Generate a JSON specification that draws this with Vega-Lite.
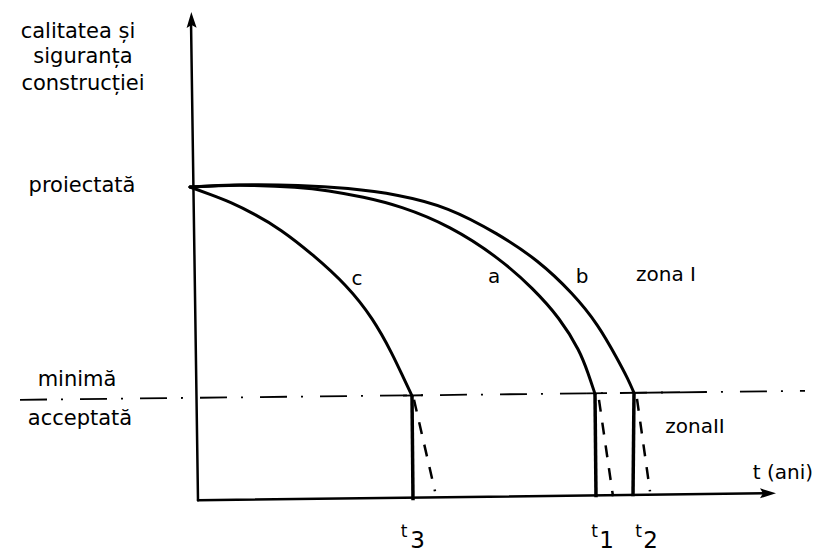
{
  "$schema": "https://vega.github.io/schema/vega-lite/v6.json",
  "width": 825,
  "height": 553,
  "padding": 0,
  "autosize": {"type": "fit", "contains": "padding"},
  "background": "white",
  "config": {"view": {"stroke": null}},
  "datasets": {
    "lines": [
      {"id": "axisY", "kind": "axis", "o": 0, "x": -7, "y": 482},
      {"id": "axisY", "kind": "axis", "o": 1, "x": 0, "y": 0},
      {"id": "axisX", "kind": "axis", "o": 0, "x": 0, "y": 0},
      {"id": "axisX", "kind": "axis", "o": 1, "x": 570, "y": 7},

      {"id": "c", "kind": "curve", "o": 0, "x": -8, "y": 315},
      {"id": "c", "kind": "curve", "o": 1, "x": 12, "y": 307.5},
      {"id": "c", "kind": "curve", "o": 2, "x": 32, "y": 300},
      {"id": "c", "kind": "curve", "o": 3, "x": 57, "y": 287.5},
      {"id": "c", "kind": "curve", "o": 4, "x": 82, "y": 273},
      {"id": "c", "kind": "curve", "o": 5, "x": 115, "y": 247},
      {"id": "c", "kind": "curve", "o": 6, "x": 149, "y": 216},
      {"id": "c", "kind": "curve", "o": 7, "x": 175, "y": 183},
      {"id": "c", "kind": "curve", "o": 8, "x": 195, "y": 146},
      {"id": "c", "kind": "curve", "o": 9, "x": 205, "y": 124},
      {"id": "c", "kind": "curve", "o": 10, "x": 214, "y": 105},

      {"id": "a", "kind": "curve", "o": 0, "x": -8, "y": 315},
      {"id": "a", "kind": "curve", "o": 1, "x": 20, "y": 316.5},
      {"id": "a", "kind": "curve", "o": 2, "x": 50, "y": 317},
      {"id": "a", "kind": "curve", "o": 3, "x": 100, "y": 315},
      {"id": "a", "kind": "curve", "o": 4, "x": 130, "y": 311.5},
      {"id": "a", "kind": "curve", "o": 5, "x": 165, "y": 305},
      {"id": "a", "kind": "curve", "o": 6, "x": 202, "y": 296},
      {"id": "a", "kind": "curve", "o": 7, "x": 252, "y": 276},
      {"id": "a", "kind": "curve", "o": 8, "x": 302, "y": 243},
      {"id": "a", "kind": "curve", "o": 9, "x": 335, "y": 213},
      {"id": "a", "kind": "curve", "o": 10, "x": 362, "y": 183},
      {"id": "a", "kind": "curve", "o": 11, "x": 382, "y": 150},
      {"id": "a", "kind": "curve", "o": 12, "x": 390, "y": 128},
      {"id": "a", "kind": "curve", "o": 13, "x": 397, "y": 107},

      {"id": "b", "kind": "curve", "o": 0, "x": -8, "y": 315},
      {"id": "b", "kind": "curve", "o": 1, "x": 20, "y": 316.5},
      {"id": "b", "kind": "curve", "o": 2, "x": 50, "y": 317.5},
      {"id": "b", "kind": "curve", "o": 3, "x": 100, "y": 317},
      {"id": "b", "kind": "curve", "o": 4, "x": 150, "y": 314},
      {"id": "b", "kind": "curve", "o": 5, "x": 200, "y": 307.5},
      {"id": "b", "kind": "curve", "o": 6, "x": 250, "y": 295},
      {"id": "b", "kind": "curve", "o": 7, "x": 300, "y": 268},
      {"id": "b", "kind": "curve", "o": 8, "x": 340, "y": 241.5},
      {"id": "b", "kind": "curve", "o": 9, "x": 375, "y": 208},
      {"id": "b", "kind": "curve", "o": 10, "x": 400, "y": 177},
      {"id": "b", "kind": "curve", "o": 11, "x": 420, "y": 141},
      {"id": "b", "kind": "curve", "o": 12, "x": 430, "y": 122},
      {"id": "b", "kind": "curve", "o": 13, "x": 436, "y": 108},

      {"id": "vc", "kind": "limit", "o": 0, "x": 214, "y": 105},
      {"id": "vc", "kind": "limit", "o": 1, "x": 215, "y": 0},
      {"id": "va", "kind": "limit", "o": 0, "x": 397, "y": 107},
      {"id": "va", "kind": "limit", "o": 1, "x": 398, "y": 3},
      {"id": "vb", "kind": "limit", "o": 0, "x": 436, "y": 108},
      {"id": "vb", "kind": "limit", "o": 1, "x": 435, "y": 4},

      {"id": "dc", "kind": "dashed", "o": 0, "x": 216, "y": 101},
      {"id": "dc", "kind": "dashed", "o": 1, "x": 237, "y": 9},
      {"id": "da", "kind": "dashed", "o": 0, "x": 401, "y": 101},
      {"id": "da", "kind": "dashed", "o": 1, "x": 415, "y": 4},
      {"id": "db", "kind": "dashed", "o": 0, "x": 439, "y": 102},
      {"id": "db", "kind": "dashed", "o": 1, "x": 452, "y": 9},

      {"id": "min", "kind": "dashdot", "o": 0, "x": -178, "y": 101},
      {"id": "min", "kind": "dashdot", "o": 1, "x": 607, "y": 110},

      {"id": "tc", "kind": "tick", "o": 0, "x": 205, "y": 105.3},
      {"id": "tc", "kind": "tick", "o": 1, "x": 225, "y": 105.6},
      {"id": "ta", "kind": "tick", "o": 0, "x": 389, "y": 107.4},
      {"id": "ta", "kind": "tick", "o": 1, "x": 409, "y": 107.7},
      {"id": "tb", "kind": "tick", "o": 0, "x": 435, "y": 108},
      {"id": "tb", "kind": "tick", "o": 1, "x": 482, "y": 108.6}
    ],
    "arrows": [
      {"axis": "y", "x": -6.5, "y": 481},
      {"axis": "x", "x": 568, "y": 7}
    ],
    "labels": [
      {"group": "left", "text": "calitatea și", "x": -120, "y": 465},
      {"group": "left", "text": "siguranța", "x": -115, "y": 440},
      {"group": "left", "text": "construcției", "x": -115, "y": 413},
      {"group": "left", "text": "proiectată", "x": -116, "y": 310},
      {"group": "left", "text": "minimă", "x": -121, "y": 115},
      {"group": "left", "text": "acceptată", "x": -118, "y": 76},
      {"group": "curve", "text": "c", "x": 159, "y": 216},
      {"group": "curve", "text": "a", "x": 296, "y": 218},
      {"group": "curve", "text": "b", "x": 384, "y": 218},
      {"group": "curve", "text": "zona I", "x": 468, "y": 220},
      {"group": "curve", "text": "zonaII", "x": 497, "y": 68},
      {"group": "curve", "text": "t (ani)", "x": 585, "y": 21},
      {"group": "t", "text": "t", "x": 206, "y": -37},
      {"group": "t", "text": "t", "x": 396.5, "y": -37},
      {"group": "t", "text": "t", "x": 440.5, "y": -37},
      {"group": "sub", "text": "3", "x": 219.5, "y": -48},
      {"group": "sub", "text": "1", "x": 408.5, "y": -48},
      {"group": "sub", "text": "2", "x": 452.5, "y": -48}
    ]
  },
  "encoding": {
    "x": {"field": "x", "type": "quantitative", "axis": null, "scale": {"domain": [-198, 627], "nice": false, "zero": false}},
    "y": {"field": "y", "type": "quantitative", "axis": null, "scale": {"domain": [-50, 503], "nice": false, "zero": false}}
  },
  "layer": [
    {
      "data": {"name": "lines"},
      "transform": [{"filter": "datum.kind == 'axis'"}],
      "mark": {"type": "line", "color": "#000", "strokeWidth": 2.5, "strokeCap": "round"},
      "encoding": {"detail": {"field": "id"}, "order": {"field": "o", "type": "quantitative"}}
    },
    {
      "data": {"name": "lines"},
      "transform": [{"filter": "datum.kind == 'curve'"}],
      "mark": {"type": "line", "color": "#000", "strokeWidth": 3, "interpolate": "basis", "strokeCap": "round"},
      "encoding": {"detail": {"field": "id"}, "order": {"field": "o", "type": "quantitative"}}
    },
    {
      "data": {"name": "lines"},
      "transform": [{"filter": "datum.kind == 'limit'"}],
      "mark": {"type": "line", "color": "#000", "strokeWidth": 3.5},
      "encoding": {"detail": {"field": "id"}, "order": {"field": "o", "type": "quantitative"}}
    },
    {
      "data": {"name": "lines"},
      "transform": [{"filter": "datum.kind == 'dashed'"}],
      "mark": {"type": "line", "color": "#000", "strokeWidth": 2.5, "strokeDash": [12, 11]},
      "encoding": {"detail": {"field": "id"}, "order": {"field": "o", "type": "quantitative"}}
    },
    {
      "data": {"name": "lines"},
      "transform": [{"filter": "datum.kind == 'dashdot'"}],
      "mark": {"type": "line", "color": "#000", "strokeWidth": 1.8, "strokeDash": [27, 14, 2, 17]},
      "encoding": {"detail": {"field": "id"}, "order": {"field": "o", "type": "quantitative"}}
    },
    {
      "data": {"name": "lines"},
      "transform": [{"filter": "datum.kind == 'tick'"}],
      "mark": {"type": "line", "color": "#000", "strokeWidth": 1.8},
      "encoding": {"detail": {"field": "id"}, "order": {"field": "o", "type": "quantitative"}}
    },
    {
      "data": {"name": "arrows"},
      "transform": [{"filter": "datum.axis == 'y'"}],
      "mark": {"type": "point", "shape": "M0,-1L0.5,0.6L0,0.3L-0.5,0.6Z", "size": 400, "filled": true, "color": "#000", "opacity": 1, "angle": -1}
    },
    {
      "data": {"name": "arrows"},
      "transform": [{"filter": "datum.axis == 'x'"}],
      "mark": {"type": "point", "shape": "M0,-1L0.5,0.6L0,0.3L-0.5,0.6Z", "size": 400, "filled": true, "color": "#000", "opacity": 1, "angle": 90}
    },
    {
      "data": {"name": "labels"},
      "transform": [{"filter": "datum.group == 'left'"}],
      "mark": {"type": "text", "font": "DejaVu Sans", "fontSize": 21, "align": "center", "baseline": "alphabetic", "color": "#000"},
      "encoding": {"text": {"field": "text"}}
    },
    {
      "data": {"name": "labels"},
      "transform": [{"filter": "datum.group == 'curve'"}],
      "mark": {"type": "text", "font": "DejaVu Sans", "fontSize": 20, "align": "center", "baseline": "alphabetic", "color": "#000"},
      "encoding": {"text": {"field": "text"}}
    },
    {
      "data": {"name": "labels"},
      "transform": [{"filter": "datum.group == 't'"}],
      "mark": {"type": "text", "font": "DejaVu Sans", "fontSize": 17, "align": "center", "baseline": "alphabetic", "color": "#000"},
      "encoding": {"text": {"field": "text"}}
    },
    {
      "data": {"name": "labels"},
      "transform": [{"filter": "datum.group == 'sub'"}],
      "mark": {"type": "text", "font": "DejaVu Sans", "fontSize": 23, "align": "center", "baseline": "alphabetic", "color": "#000"},
      "encoding": {"text": {"field": "text"}}
    }
  ]
}
